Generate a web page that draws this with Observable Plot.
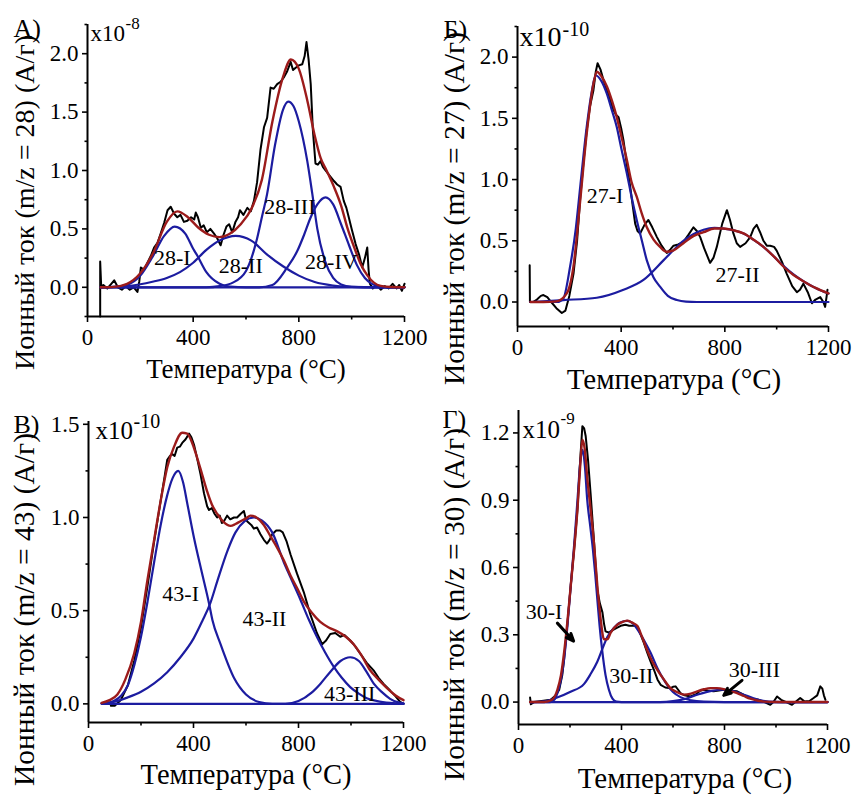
<!DOCTYPE html>
<html>
<head>
<meta charset="utf-8">
<script src="https://cdn.jsdelivr.net/npm/d3@7"></script>
<script src="https://cdn.jsdelivr.net/npm/@observablehq/plot@0.6"></script>
<style>
  html, body { margin: 0; padding: 0; background: #fff; }
  #wrap { position: relative; width: 855px; height: 796px; overflow: hidden; }
  .cell { position: absolute; }
  .cell svg, .cell svg text { font-family: "Liberation Serif", "DejaVu Serif", serif !important; }
</style>
</head>
<body>
<div id="wrap"></div>
<script>
// ---------- shared axis values ----------
const xMajor = [0, 400, 800, 1200];
const xMinor = [200, 600, 1000];
const xLabelText = "Температура (°C)";

// ---------- Panel А : m/z = 28 ----------
const A_letter = "А)";
const A_exp10 = "-8";
const A_yLabel = "Ионный ток (m/z = 28) (A/г)";
const A_yDomain = [-0.25, 2.25];
const A_yMajor = [0, 0.5, 1.0, 1.5, 2.0];
const A_yMinor = [-0.25, 0.25, 0.75, 1.25, 1.75, 2.25];
const A_exp = [[48,-0.25],[48,0.22],[52,0.0],[60,0.02],[75,-0.01],[90,0.03],[101,0.06],[115,0.0],[130,-0.02],[145,0.01],[160,-0.02],[175,0.0],[189,-0.04],[196,0.05],[202,0.17],[214,0.15],[227,0.21],[240,0.27],[252,0.34],[265,0.38],[277,0.46],[290,0.55],[303,0.66],[315,0.69],[328,0.63],[340,0.6],[352,0.62],[365,0.56],[378,0.57],[392,0.6],[404,0.58],[410,0.64],[418,0.6],[429,0.51],[440,0.53],[452,0.47],[465,0.5],[479,0.46],[491,0.42],[504,0.36],[515,0.45],[526,0.52],[536,0.54],[548,0.47],[560,0.56],[570,0.6],[577,0.66],[590,0.62],[605,0.68],[618,0.65],[630,0.74],[642,0.9],[655,1.18],[668,1.37],[680,1.45],[693,1.71],[705,1.7],[718,1.74],[731,1.76],[744,1.8],[756,1.85],[769,1.93],[778,1.86],[788,1.88],[800,1.9],[813,1.91],[822,1.98],[829,2.1],[837,1.95],[845,1.74],[853,1.35],[863,1.06],[872,1.05],[882,1.08],[891,1.03],[901,1.0],[915,0.96],[933,0.91],[945,0.88],[958,0.86],[970,0.74],[980,0.68],[989,0.6],[1000,0.5],[1015,0.37],[1028,0.28],[1040,0.17],[1050,0.25],[1059,0.34],[1064,0.15],[1069,0.03],[1080,-0.01],[1095,0.02],[1110,-0.02],[1125,0.01],[1140,-0.01],[1155,0.03],[1170,-0.01],[1180,0.02],[1190,-0.03],[1200,0.03]];
const A_fit = [[50,0],[100,0.004],[150,0.03],[200,0.12],[250,0.3],[300,0.56],[340,0.65],[380,0.6],[420,0.51],[460,0.45],[500,0.43],[540,0.46],[580,0.54],[620,0.67],[660,0.92],[700,1.42],[740,1.8],[770,1.95],[800,1.87],[832,1.6],[860,1.3],[882,1.11],[905,1.0],[933,0.86],[960,0.7],[985,0.5],[1010,0.34],[1034,0.2],[1060,0.1],[1084,0.04],[1110,0.012],[1150,0.002],[1200,0]];
const A_c1 = [[50,0],[100,0.003],[150,0.021],[200,0.1],[246,0.26],[290,0.44],[330,0.52],[370,0.46],[400,0.33],[416,0.27],[450,0.13],[500,0.03],[540,0.005],[600,0],[1200,0]];
const A_c2 = [[50,0],[150,0.01],[250,0.05],[300,0.08],[350,0.13],[400,0.21],[450,0.32],[500,0.4],[561,0.44],[620,0.4],[680,0.28],[740,0.18],[800,0.1],[860,0.045],[930,0.015],[1000,0.003],[1100,0],[1200,0]];
const A_c3 = [[50,0],[450,0],[500,0.01],[550,0.04],[600,0.14],[640,0.4],[660,0.6],[680,0.8],[710,1.22],[740,1.52],[760,1.59],[780,1.55],[800,1.42],[832,1.08],[851,0.8],[870,0.5],[900,0.22],[930,0.08],[960,0.025],[1000,0.004],[1050,0],[1200,0]];
const A_c4 = [[50,0],[650,0],[700,0.02],[756,0.17],[794,0.31],[820,0.45],[845,0.6],[870,0.71],[901,0.77],[930,0.71],[960,0.54],[990,0.36],[1020,0.19],[1050,0.08],[1080,0.025],[1110,0.005],[1150,0],[1200,0]];
const A_names = ["28-I", "28-II", "28-III", "28-IV"];
const A_namePos = [[321,0.25],[580,0.185],[766,0.685],[923,0.22]];

// ---------- Panel Б : m/z = 27 ----------
const B_letter = "Б)";
const B_exp10 = "-10";
const B_yLabel = "Ионный ток (m/z = 27) (A/г)";
const B_yDomain = [-0.2, 2.25];
const B_yMajor = [0, 0.5, 1.0, 1.5, 2.0];
const B_yMinor = [0.25, 0.75, 1.25, 1.75, 2.25];
const B_exp = [[47,0.3],[48,0.0],[60,0.0],[75,0.02],[90,0.05],[100,0.057],[115,0.04],[130,0.0],[150,-0.05],[171,-0.09],[185,-0.07],[200,0.05],[216,0.23],[230,0.5],[242,0.85],[255,1.15],[267,1.4],[280,1.6],[293,1.73],[302,1.88],[309,1.95],[320,1.9],[332,1.81],[350,1.7],[370,1.57],[380,1.53],[390,1.51],[400,1.42],[409,1.32],[422,1.12],[435,0.94],[445,0.78],[454,0.64],[463,0.58],[473,0.56],[490,0.63],[505,0.67],[520,0.61],[538,0.53],[556,0.46],[576,0.4],[590,0.43],[602,0.46],[620,0.47],[640,0.49],[660,0.55],[679,0.61],[692,0.58],[705,0.53],[720,0.44],[743,0.32],[756,0.36],[769,0.45],[790,0.64],[808,0.75],[820,0.67],[833,0.56],[846,0.48],[859,0.45],[880,0.48],[898,0.53],[911,0.6],[923,0.63],[936,0.57],[949,0.5],[962,0.46],[975,0.46],[990,0.45],[1000,0.42],[1020,0.33],[1039,0.23],[1060,0.13],[1078,0.08],[1090,0.1],[1103,0.15],[1120,0.08],[1136,-0.01],[1150,0.02],[1168,0.04],[1180,0.0],[1187,-0.04],[1193,0.05],[1196,0.1]];
const B_fit = [[50,0],[100,0],[150,0.005],[190,0.07],[216,0.29],[242,0.83],[267,1.375],[293,1.78],[306,1.88],[325,1.84],[345,1.76],[365,1.64],[383,1.51],[400,1.36],[422,1.16],[440,0.98],[460,0.86],[480,0.72],[499,0.61],[525,0.51],[550,0.45],[575,0.41],[600,0.42],[640,0.48],[680,0.54],[718,0.57],[760,0.6],[795,0.6],[835,0.585],[872,0.56],[910,0.51],[949,0.45],[990,0.37],[1026,0.29],[1065,0.22],[1103,0.17],[1150,0.115],[1200,0.07]];
const B_c1 = [[50,0],[150,0],[175,0.02],[203,0.29],[225,0.6],[242,0.94],[267,1.43],[285,1.7],[303,1.85],[325,1.8],[345,1.7],[365,1.56],[383,1.43],[400,1.26],[422,1.05],[440,0.86],[460,0.67],[480,0.5],[499,0.34],[525,0.2],[550,0.125],[580,0.05],[615,0.016],[650,0.003],[692,0],[1200,0]];
const B_c2 = [[50,0],[177,0.016],[306,0.035],[409,0.1],[486,0.18],[563,0.34],[600,0.42],[640,0.5],[680,0.555],[718,0.59],[760,0.605],[795,0.6],[835,0.585],[872,0.56],[910,0.51],[949,0.45],[990,0.37],[1026,0.295],[1065,0.225],[1103,0.17],[1150,0.115],[1200,0.07]];
const B_names = ["27-I", "27-II"];
const B_namePos = [[338,0.864],[849,0.22]];

// ---------- Panel В : m/z = 43 ----------
const C_letter = "В)";
const C_exp10 = "-10";
const C_yLabel = "Ионный ток (m/z = 43) (A/г)";
const C_yDomain = [-0.1, 1.515];
const C_yMajor = [0, 0.5, 1.0, 1.5];
const C_yMinor = [0.25, 0.75, 1.25];
const C_exp = [[85,-0.01],[100,-0.01],[123,0.02],[150,0.1],[174,0.23],[200,0.41],[224,0.625],[250,0.87],[275,1.09],[290,1.22],[300,1.31],[310,1.33],[319,1.34],[328,1.33],[338,1.375],[348,1.38],[357,1.4],[370,1.42],[383,1.45],[392,1.43],[402,1.39],[415,1.31],[427,1.23],[440,1.13],[452,1.06],[459,1.04],[470,1.05],[480,1.02],[490,1.0],[500,1.01],[508,0.97],[516,0.98],[528,1.01],[540,0.99],[554,1.0],[566,1.0],[580,1.02],[592,1.035],[598,1.0],[604,0.98],[620,0.96],[630,0.94],[642,0.946],[655,0.91],[668,0.88],[680,0.86],[690,0.88],[700,0.91],[715,0.93],[730,0.93],[740,0.92],[755,0.87],[770,0.8],[794,0.7],[820,0.6],[845,0.48],[870,0.38],[890,0.32],[905,0.34],[921,0.375],[940,0.38],[959,0.36],[975,0.37],[997,0.34],[1010,0.32],[1035,0.27],[1060,0.22],[1086,0.18],[1105,0.14],[1124,0.107],[1150,0.07],[1170,0.04],[1187,0.01],[1200,0.0]];
const C_fit = [[50,0.005],[80,0.02],[110,0.05],[140,0.13],[174,0.27],[200,0.44],[224,0.66],[250,0.88],[275,1.09],[300,1.27],[326,1.38],[357,1.455],[376,1.45],[395,1.4],[414,1.32],[433,1.23],[452,1.14],[470,1.07],[490,1.02],[515,0.975],[541,0.955],[560,0.965],[579,0.98],[600,0.995],[617,1.01],[640,1.0],[668,0.96],[693,0.9],[718,0.84],[744,0.77],[769,0.69],[795,0.62],[820,0.55],[850,0.49],[883,0.44],[915,0.41],[946,0.39],[980,0.36],[1010,0.32],[1040,0.26],[1073,0.18],[1105,0.13],[1137,0.085],[1170,0.045],[1200,0.02]];
const C_c1 = [[50,0.002],[75,0.006],[100,0.018],[125,0.045],[150,0.1],[175,0.21],[200,0.36],[225,0.55],[250,0.76],[275,0.96],[300,1.12],[320,1.21],[342,1.25],[360,1.19],[377,1.07],[402,0.89],[431,0.71],[459,0.54],[472,0.45],[503,0.32],[554,0.14],[600,0.05],[650,0.01],[700,0],[1200,0]];
const C_c2 = [[50,0.003],[100,0.012],[150,0.035],[200,0.065],[250,0.11],[300,0.17],[350,0.25],[400,0.35],[434,0.446],[463,0.536],[491,0.66],[529,0.82],[560,0.92],[595,0.98],[630,1.0],[660,0.985],[700,0.92],[744,0.76],[769,0.68],[807,0.56],[840,0.45],[870,0.36],[900,0.28],[934,0.2],[965,0.14],[997,0.09],[1030,0.055],[1060,0.03],[1100,0.015],[1150,0.005],[1200,0]];
const C_c3 = [[50,0],[750,0],[800,0.015],[850,0.06],[883,0.107],[920,0.17],[960,0.23],[997,0.25],[1030,0.23],[1060,0.17],[1086,0.11],[1120,0.06],[1149,0.027],[1180,0.008],[1200,0.003]];
const C_names = ["43-I", "43-II", "43-III"];
const C_namePos = [[351,0.59],[670,0.455],[995,0.054]];

// ---------- Panel Г : m/z = 30 ----------
const D_letter = "Г)";
const D_exp10 = "-9";
const D_yLabel = "Ионный ток (m/z = 30) (A/г)";
const D_yDomain = [-0.1, 1.3];
const D_yMajor = [0, 0.3, 0.6, 0.9, 1.2];
const D_yMinor = [0.15, 0.45, 0.75, 1.05];
const D_exp = [[45,0.02],[48,-0.01],[60,0.0],[90,0.005],[125,0.01],[145,0.03],[158,0.055],[170,0.12],[177,0.19],[190,0.35],[203,0.52],[216,0.68],[229,0.86],[238,1.05],[248,1.23],[255,1.22],[261,1.185],[270,1.08],[280,0.93],[293,0.72],[306,0.5],[316,0.44],[326,0.4],[332,0.35],[338,0.315],[350,0.31],[364,0.32],[380,0.33],[397,0.34],[415,0.345],[430,0.34],[448,0.34],[458,0.34],[468,0.32],[485,0.27],[500,0.22],[513,0.18],[526,0.144],[540,0.1],[552,0.077],[570,0.065],[590,0.062],[600,0.068],[610,0.07],[620,0.055],[629,0.04],[645,0.03],[668,0.025],[690,0.035],[705,0.05],[720,0.055],[740,0.05],[758,0.048],[778,0.052],[797,0.055],[820,0.05],[849,0.048],[870,0.035],[887,0.025],[910,0.015],[933,0.01],[955,0.0],[978,-0.012],[990,0.0],[1004,0.025],[1020,0.01],[1040,0.0],[1062,-0.012],[1080,0.005],[1094,0.018],[1110,0.003],[1130,0.005],[1146,0.018],[1160,0.03],[1172,0.07],[1180,0.06],[1186,0.03],[1192,0.01]];
const D_fit = [[45,0],[100,0],[130,0.01],[151,0.055],[165,0.12],[177,0.22],[190,0.36],[203,0.52],[216,0.68],[229,0.86],[240,1.06],[248,1.17],[257,1.13],[267,1.0],[280,0.86],[293,0.71],[306,0.52],[319,0.37],[332,0.28],[345,0.28],[358,0.31],[384,0.345],[400,0.355],[422,0.363],[440,0.355],[461,0.34],[480,0.29],[500,0.23],[520,0.18],[539,0.144],[565,0.1],[590,0.062],[615,0.045],[642,0.033],[670,0.038],[694,0.048],[720,0.057],[745,0.062],[770,0.062],[797,0.058],[820,0.05],[849,0.04],[875,0.027],[900,0.015],[930,0.006],[952,0.002],[1000,0],[1200,0]];
const D_c1 = [[45,0],[120,0],[140,0.012],[151,0.04],[165,0.1],[177,0.19],[190,0.34],[203,0.52],[216,0.7],[229,0.9],[240,1.07],[249,1.125],[258,1.05],[267,0.9],[278,0.79],[289,0.68],[298,0.57],[306,0.46],[315,0.34],[325,0.23],[338,0.12],[351,0.055],[365,0.015],[380,0.002],[400,0],[1200,0]];
const D_c2 = [[45,0],[100,0.003],[150,0.02],[200,0.045],[254,0.08],[280,0.125],[306,0.18],[330,0.25],[345,0.29],[370,0.33],[395,0.355],[422,0.362],[445,0.35],[470,0.31],[490,0.27],[513,0.22],[540,0.15],[564,0.1],[600,0.045],[629,0.022],[670,0.008],[720,0.002],[800,0],[1200,0]];
const D_c3 = [[45,0],[550,0],[600,0.004],[650,0.015],[700,0.035],[750,0.05],[790,0.055],[830,0.05],[870,0.035],[910,0.018],[950,0.006],[1000,0.001],[1050,0],[1200,0]];
const D_names = ["30-I", "30-II", "30-III"];
const D_namePos = [[99,0.404],[438,0.117],[916,0.144]];
const D_arrows = [[151,0.352,214,0.272],[868,0.097,797,0.03]];

// ---------- styles ----------
const FONT = "Liberation Serif, DejaVu Serif, serif";
const RED = "#9c1b1b";
const BLUE = "#1c1ca0";

const panels = [
  {data: {exp: A_exp, fit: A_fit, comps: [A_c1, A_c2, A_c3, A_c4], names: A_names, namePos: A_namePos,
          letter: A_letter, e: A_exp10, yLabel: A_yLabel, yDomain: A_yDomain, yMajor: A_yMajor, yMinor: A_yMinor},
   box: {left: 0, top: 0, width: 428, height: 400, mL: 87, mR: 24, mT: 24, mB: 84},
   off: {letter: [-74, 12], x10: [3, 16.5], x10Size: 23, sup: [38, 4.5], supSize: 17, yl: [-54, 32], ylSize: 28, xl: [0, 61], xlSize: 27}},
  {data: {exp: B_exp, fit: B_fit, comps: [B_c1, B_c2], names: B_names, namePos: B_namePos,
          letter: B_letter, e: B_exp10, yLabel: B_yLabel, yDomain: B_yDomain, yMajor: B_yMajor, yMinor: B_yMinor},
   box: {left: 428, top: 0, width: 427, height: 400, mL: 89, mR: 27, mT: 26, mB: 74},
   off: {letter: [-74, 11], x10: [2, 19.7], x10Size: 28, sup: [45, 9], supSize: 20, yl: [-54, 32], ylSize: 29.5, xl: [1, 62], xlSize: 29}},
  {data: {exp: C_exp, fit: C_fit, comps: [C_c1, C_c2, C_c3], names: C_names, namePos: C_namePos,
          letter: C_letter, e: C_exp10, yLabel: C_yLabel, yDomain: C_yDomain, yMajor: C_yMajor, yMinor: C_yMinor},
   box: {left: 0, top: 400, width: 428, height: 396, mL: 88, mR: 25, mT: 21, mB: 74},
   off: {letter: [-75, 11], x10: [7, 17], x10Size: 25, sup: [45, 6], supSize: 20, yl: [-55, 37.5], ylSize: 29.5, xl: [0, 61], xlSize: 28.5}},
  {data: {exp: D_exp, fit: D_fit, comps: [D_c1, D_c2, D_c3], names: D_names, namePos: D_namePos,
          letter: D_letter, e: D_exp10, yLabel: D_yLabel, yDomain: D_yDomain, yMajor: D_yMajor, yMinor: D_yMinor,
          arrows: D_arrows},
   box: {left: 428, top: 400, width: 427, height: 396, mL: 90, mR: 28, mT: 10, mB: 72},
   off: {letter: [-76, 17], x10: [4, 27], x10Size: 25, sup: [42, 13], supSize: 17, yl: [-55, 37], ylSize: 29.5, xl: [12, 63], xlSize: 29}}
];

const X = d => d[0], Y = d => d[1];
const txt = (s, o) => Plot.text([s], {text: d => d, fill: "#000", fontFamily: FONT, ...o});

const wrap = document.getElementById("wrap");
for (const p of panels) {
  const d = p.data, b = p.box, o = p.off;
  const labels = d.names.map((n, i) => ({n, x: d.namePos[i][0], y: d.namePos[i][1]}));
  const marks = [
    Plot.axisX({ticks: xMajor, tickSize: 6, tickPadding: 6, tickFormat: d3.format("d"), fontSize: 23, fontFamily: FONT, strokeWidth: 1.6, label: null}),
    Plot.axisX({ticks: xMinor, tickSize: 3.5, tickFormat: () => "", strokeWidth: 1.6, label: null}),
    Plot.axisY({ticks: d.yMajor, tickSize: 5, tickPadding: 4, tickFormat: d3.format(".1f"), fontSize: 23, fontFamily: FONT, strokeWidth: 1.6, label: null}),
    Plot.axisY({ticks: d.yMinor, tickSize: 2.5, tickFormat: () => "", strokeWidth: 1.6, label: null}),
    Plot.ruleX([0], {stroke: "#000", strokeWidth: 2}),
    Plot.ruleY([d.yDomain[0]], {stroke: "#000", strokeWidth: 2}),
    Plot.line(d.exp, {x: X, y: Y, stroke: "#000", strokeWidth: 2, strokeLinejoin: "round"}),
    ...d.comps.map(c => Plot.line(c, {x: X, y: Y, stroke: BLUE, strokeWidth: 2.2, curve: "monotone-x"})),
    Plot.line(d.fit, {x: X, y: Y, stroke: RED, strokeWidth: 2.4, curve: "monotone-x"}),
    Plot.text(labels, {x: "x", y: "y", text: "n", fontSize: 22, fontFamily: FONT, fill: "#000", lineAnchor: "middle"}),
    txt(d.letter, {frameAnchor: "top-left", textAnchor: "start", lineAnchor: "bottom", dx: o.letter[0], dy: o.letter[1], fontSize: 26}),
    txt("x10", {frameAnchor: "top-left", textAnchor: "start", lineAnchor: "bottom", dx: o.x10[0], dy: o.x10[1], fontSize: o.x10Size}),
    txt(d.e, {frameAnchor: "top-left", textAnchor: "start", lineAnchor: "bottom", dx: o.sup[0], dy: o.sup[1], fontSize: o.supSize}),
    txt(d.yLabel, {frameAnchor: "left", rotate: -90, textAnchor: "middle", lineAnchor: "bottom", dx: o.yl[0], dy: o.yl[1], fontSize: o.ylSize}),
    txt(xLabelText, {frameAnchor: "bottom", textAnchor: "middle", lineAnchor: "bottom", dx: o.xl[0], dy: o.xl[1], fontSize: o.xlSize})
  ];
  if (d.arrows) {
    marks.push(Plot.arrow(d.arrows, {x1: a => a[0], y1: a => a[1], x2: a => a[2], y2: a => a[3],
      stroke: "#000", strokeWidth: 3, headLength: 13, headAngle: 45}));
  }
  const svg = Plot.plot({
    width: b.width, height: b.height,
    marginLeft: b.mL, marginRight: b.mR, marginTop: b.mT, marginBottom: b.mB,
    x: {domain: [0, 1200]},
    y: {domain: d.yDomain},
    style: {background: "transparent", overflow: "visible", maxWidth: "none", color: "#000"},
    marks
  });
  svg.setAttribute("font-family", FONT);
  const cell = document.createElement("div");
  cell.className = "cell";
  cell.style.left = b.left + "px";
  cell.style.top = b.top + "px";
  cell.style.width = b.width + "px";
  cell.style.height = b.height + "px";
  cell.appendChild(svg);
  wrap.appendChild(cell);
}
</script>
</body>
</html>
